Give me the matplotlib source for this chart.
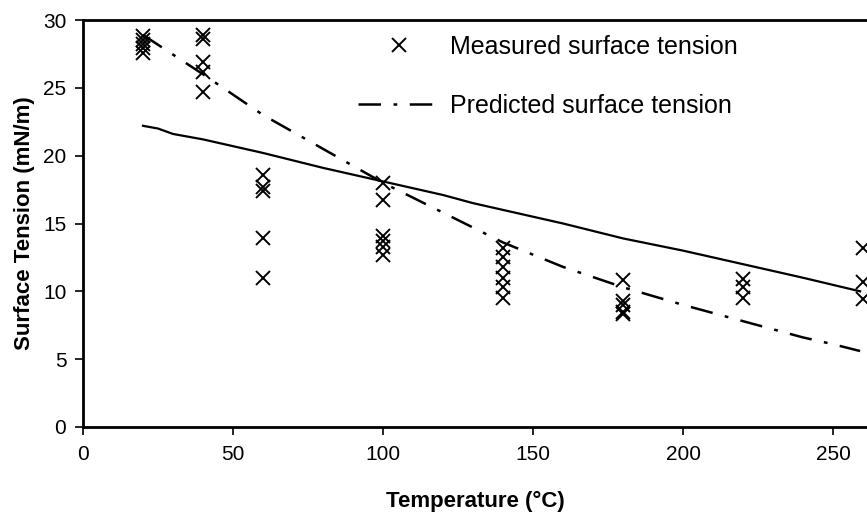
import matplotlib
matplotlib.use('Agg')
import matplotlib.pyplot as plt

plt.rcParams['font.family'] = ['Liberation Sans', 'DejaVu Sans']

# Measured surface tension (scatter)
meas_temp = [20, 20, 20, 20, 20,
             40, 40, 40, 40, 40,
             60, 60, 60, 60, 60,
             100, 100, 100, 100, 100, 100,
             140, 140, 140, 140, 140, 140,
             180, 180, 180, 180, 180,
             220, 220, 220,
             260, 260, 260]
meas_st = [28.8, 28.5, 28.2, 27.9, 27.6,
           28.9, 28.6, 26.9, 26.2, 24.7,
           18.6, 17.7, 17.4, 13.9, 11.0,
           18.0, 16.7, 14.1, 13.7, 13.3, 12.7,
           13.2, 12.5, 11.8, 11.0, 10.3, 9.5,
           10.8, 9.3, 9.0, 8.5, 8.3,
           10.9, 10.3, 9.5,
           13.2, 10.7, 9.4]

# Solid model line
solid_temp = [20, 25, 30, 40, 50, 60, 80, 100, 120, 130, 140, 160, 180, 200, 220, 240, 259]
solid_st = [22.2, 22.0, 21.6, 21.2, 20.7, 20.2, 19.1, 18.1, 17.1, 16.5, 16.0, 15.0,
            13.9, 13.0, 12.0, 11.0, 10.0]

# Predicted surface tension (dash-dot)
pred_temp = [20, 40, 60, 80, 100, 120, 140, 160, 180, 200, 220, 240, 250, 259]
pred_st = [28.9, 26.0, 23.0, 20.5, 18.0, 15.8, 13.6, 11.8, 10.3, 9.0, 7.8, 6.6, 6.1, 5.6]

fig = plt.figure(figsize=(8.67, 5.16), dpi=100)
ax = fig.add_axes([83 / 867, 89 / 516, (867 - 83) / 867, 407 / 516])

ax.plot(meas_temp, meas_st, linestyle='none', marker='x', color='black',
        markersize=10, markeredgewidth=1.4, label='Measured surface tension',
        clip_on=False, zorder=3)
ax.plot(pred_temp, pred_st, color='black', linewidth=1.8,
        dashes=(9, 5, 1.5, 5), label='Predicted surface tension')
ax.plot(solid_temp, solid_st, color='black', linewidth=1.6)

ax.set_xlim(0, 261.3)
ax.set_ylim(0, 30)
ax.set_xticks([0, 50, 100, 150, 200, 250])
ax.set_yticks([0, 5, 10, 15, 20, 25, 30])
ax.tick_params(axis='both', labelsize=15, width=1.2, length=6, direction='out')
ax.tick_params(axis='x', pad=7)
ax.tick_params(axis='y', pad=6)

for side in ['left', 'bottom', 'top']:
    ax.spines[side].set_linewidth(2)
ax.spines['right'].set_visible(False)

ax.set_xlabel('Temperature (°C)', fontsize=16, fontweight='bold', labelpad=19)
ax.set_ylabel('Surface Tension (mN/m)', fontsize=16, fontweight='bold', labelpad=6)

ax.legend(loc='upper left', bbox_to_anchor=(358 / 867, 1 - 35 / 516),
          bbox_transform=fig.transFigure, frameon=False, fontsize=18,
          handlelength=3.3, handletextpad=0.36, labelspacing=1.4,
          borderpad=0, borderaxespad=0)

fig.savefig('out.png', dpi=100)
